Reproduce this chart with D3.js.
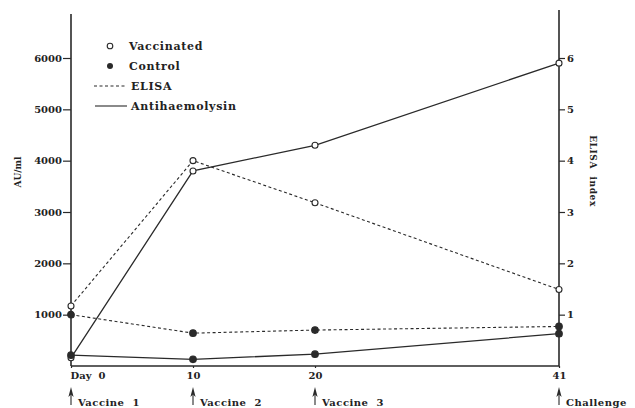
<!doctype html>
<html lang="en">
<head>
    <meta charset="utf-8">
    <script src="https://d3js.org/d3.v7.min.js"></script>
    <style>
        body { margin: 0; background: #fff; }
        svg text { font-family: "DejaVu Serif", serif; font-weight: bold; fill: #222; }
    </style>
</head>
<body>
    <div id="chart"></div>
    <script>
        // days of sampling and their axis labels
        var days = [0, 10, 20, 41];
        var dayLabels = ["Day  0", "10", "20", "41"];
        var events = ["Vaccine 1", "Vaccine 2", "Vaccine 3", "Challenge"];

        // ELISA index (right axis)
        var elisaVacc = [1.17, 4.0, 3.18, 1.49];
        var elisaCtrl = [1.0, 0.64, 0.70, 0.77];
        // antihaemolysin AU/ml (left axis)
        var haemVacc = [160, 3800, 4300, 5900];
        var haemCtrl = [210, 130, 230, 630];

        var auTicks = [1000, 2000, 3000, 4000, 5000, 6000];
        var elisaTicks = [1, 2, 3, 4, 5, 6];

        var margin = { top: 14, right: 76, bottom: 42, left: 71 },
            width = 635 - margin.left - margin.right,
            height = 408 - margin.top - margin.bottom;

        var svg = d3.select("#chart").append("svg")
            .attr("width", 635).attr("height", 408);
        var g = svg.append("g")
            .attr("transform", "translate(" + margin.left + "," + margin.top + ")");

        // the day axis is drawn broken: 41 sits where 40 would be
        var x = d3.scaleLinear().domain([0, 20, 41]).range([0, width / 2, width]);
        var yL = d3.scaleLinear().domain([0, 6000]).range([height, height - 308]);
        var yR = d3.scaleLinear().domain([0, 6]).range([height, height - 308]);

        var ink = "#2a2a2a";

        // axis lines
        g.append("line").attr("x1", 0).attr("x2", 0).attr("y1", 0).attr("y2", height)
            .attr("stroke", ink).attr("stroke-width", 1.6);
        g.append("line").attr("x1", width).attr("x2", width).attr("y1", -4).attr("y2", height)
            .attr("stroke", ink).attr("stroke-width", 1.6);
        g.append("line").attr("x1", 0).attr("x2", width).attr("y1", height).attr("y2", height)
            .attr("stroke", ink).attr("stroke-width", 1.6);

        var left = g.append("g")
            .call(d3.axisLeft(yL).tickValues(auTicks).tickSize(8).tickPadding(1).tickFormat(d3.format("d")));
        var right = g.append("g").attr("transform", "translate(" + width + ",0)")
            .call(d3.axisRight(yR).tickValues(elisaTicks).tickSize(6).tickPadding(2).tickFormat(d3.format("d")));
        var bottom = g.append("g").attr("transform", "translate(0," + height + ")")
            .call(d3.axisBottom(x).tickValues(days).tickSize(2).tickFormat((d, i) => dayLabels[i]).tickPadding(4));

        [left, right, bottom].forEach(a => {
            a.select(".domain").remove();
            a.selectAll("line").attr("stroke", ink).attr("stroke-width", 1.2);
            a.selectAll("text").style("font-size", "10px").attr("fill", ink);
        });
        bottom.selectAll("text")
            .attr("text-anchor", (d, i) => i === 0 ? "start" : "middle")
            .attr("dx", (d, i) => i === 0 ? -1 : 0)
            .style("white-space", "pre");

        // axis titles
        svg.append("text")
            .attr("transform", "translate(21,172) rotate(-90)")
            .attr("text-anchor", "middle").style("font-size", "9px")
            .text("AU/ml");
        svg.append("text")
            .attr("transform", "translate(590,171) rotate(90)")
            .attr("text-anchor", "middle").style("font-size", "9px")
            .attr("letter-spacing", "0.6")
            .text("ELISA  index").style("white-space", "pre");

        // event arrows below the axis
        var ev = g.selectAll(".event").data(days).join("g").attr("class", "event")
            .attr("transform", d => "translate(" + x(d) + "," + height + ")");
        ev.append("line").attr("y1", 39).attr("y2", 26)
            .attr("stroke", ink).attr("stroke-width", 1.1);
        ev.append("path").attr("d", "M-2.6,31 L0,21 L2.6,31 L0,28.5 Z").attr("fill", ink);
        ev.append("text").attr("x", 7).attr("y", 39.5)
            .style("font-size", "10px").attr("letter-spacing", "0.5").style("white-space", "pre")
            .text((d, i) => events[i].replace(" ", "  "));

        // series
        var series = [
            { values: elisaVacc, scale: yR, dash: "3,2.5", open: true },
            { values: elisaCtrl, scale: yR, dash: "3,2.5", open: false },
            { values: haemVacc, scale: yL, dash: null, open: true },
            { values: haemCtrl, scale: yL, dash: null, open: false }
        ];

        series.forEach(s => {
            var line = d3.line().x((d, i) => x(days[i])).y(d => s.scale(d));
            g.append("path").datum(s.values)
                .attr("d", line).attr("fill", "none")
                .attr("stroke", ink).attr("stroke-width", s.dash ? 1.1 : 1.3)
                .attr("stroke-dasharray", s.dash);
        });
        series.forEach(s => {
            g.selectAll(null).data(s.values).join("circle")
                .attr("cx", (d, i) => x(days[i])).attr("cy", d => s.scale(d))
                .attr("r", s.open ? 3 : 3.3)
                .attr("fill", s.open ? "#fff" : ink)
                .attr("stroke", ink).attr("stroke-width", 1.1);
        });

        // legend
        var legend = svg.append("g");
        var lgText = ["Vaccinated", "Control", "ELISA", "Antihaemolysin"];
        var lgY = [46, 66, 86, 106];
        legend.append("circle").attr("cx", 110).attr("cy", lgY[0]).attr("r", 2.8)
            .attr("fill", "#fff").attr("stroke", ink).attr("stroke-width", 1.1);
        legend.append("circle").attr("cx", 110).attr("cy", lgY[1]).attr("r", 3)
            .attr("fill", ink);
        legend.append("line").attr("x1", 94).attr("x2", 127).attr("y1", lgY[2]).attr("y2", lgY[2])
            .attr("stroke", ink).attr("stroke-width", 1.1).attr("stroke-dasharray", "3,2.5");
        legend.append("line").attr("x1", 95).attr("x2", 127).attr("y1", lgY[3]).attr("y2", lgY[3])
            .attr("stroke", ink).attr("stroke-width", 1.1);
        legend.selectAll("text").data(lgText).join("text")
            .attr("x", (d, i) => i < 2 ? 129 : 131)
            .attr("y", (d, i) => lgY[i] + 4)
            .style("font-size", "11px").attr("letter-spacing", "0.7")
            .text(d => d);
    </script>
</body>
</html>
